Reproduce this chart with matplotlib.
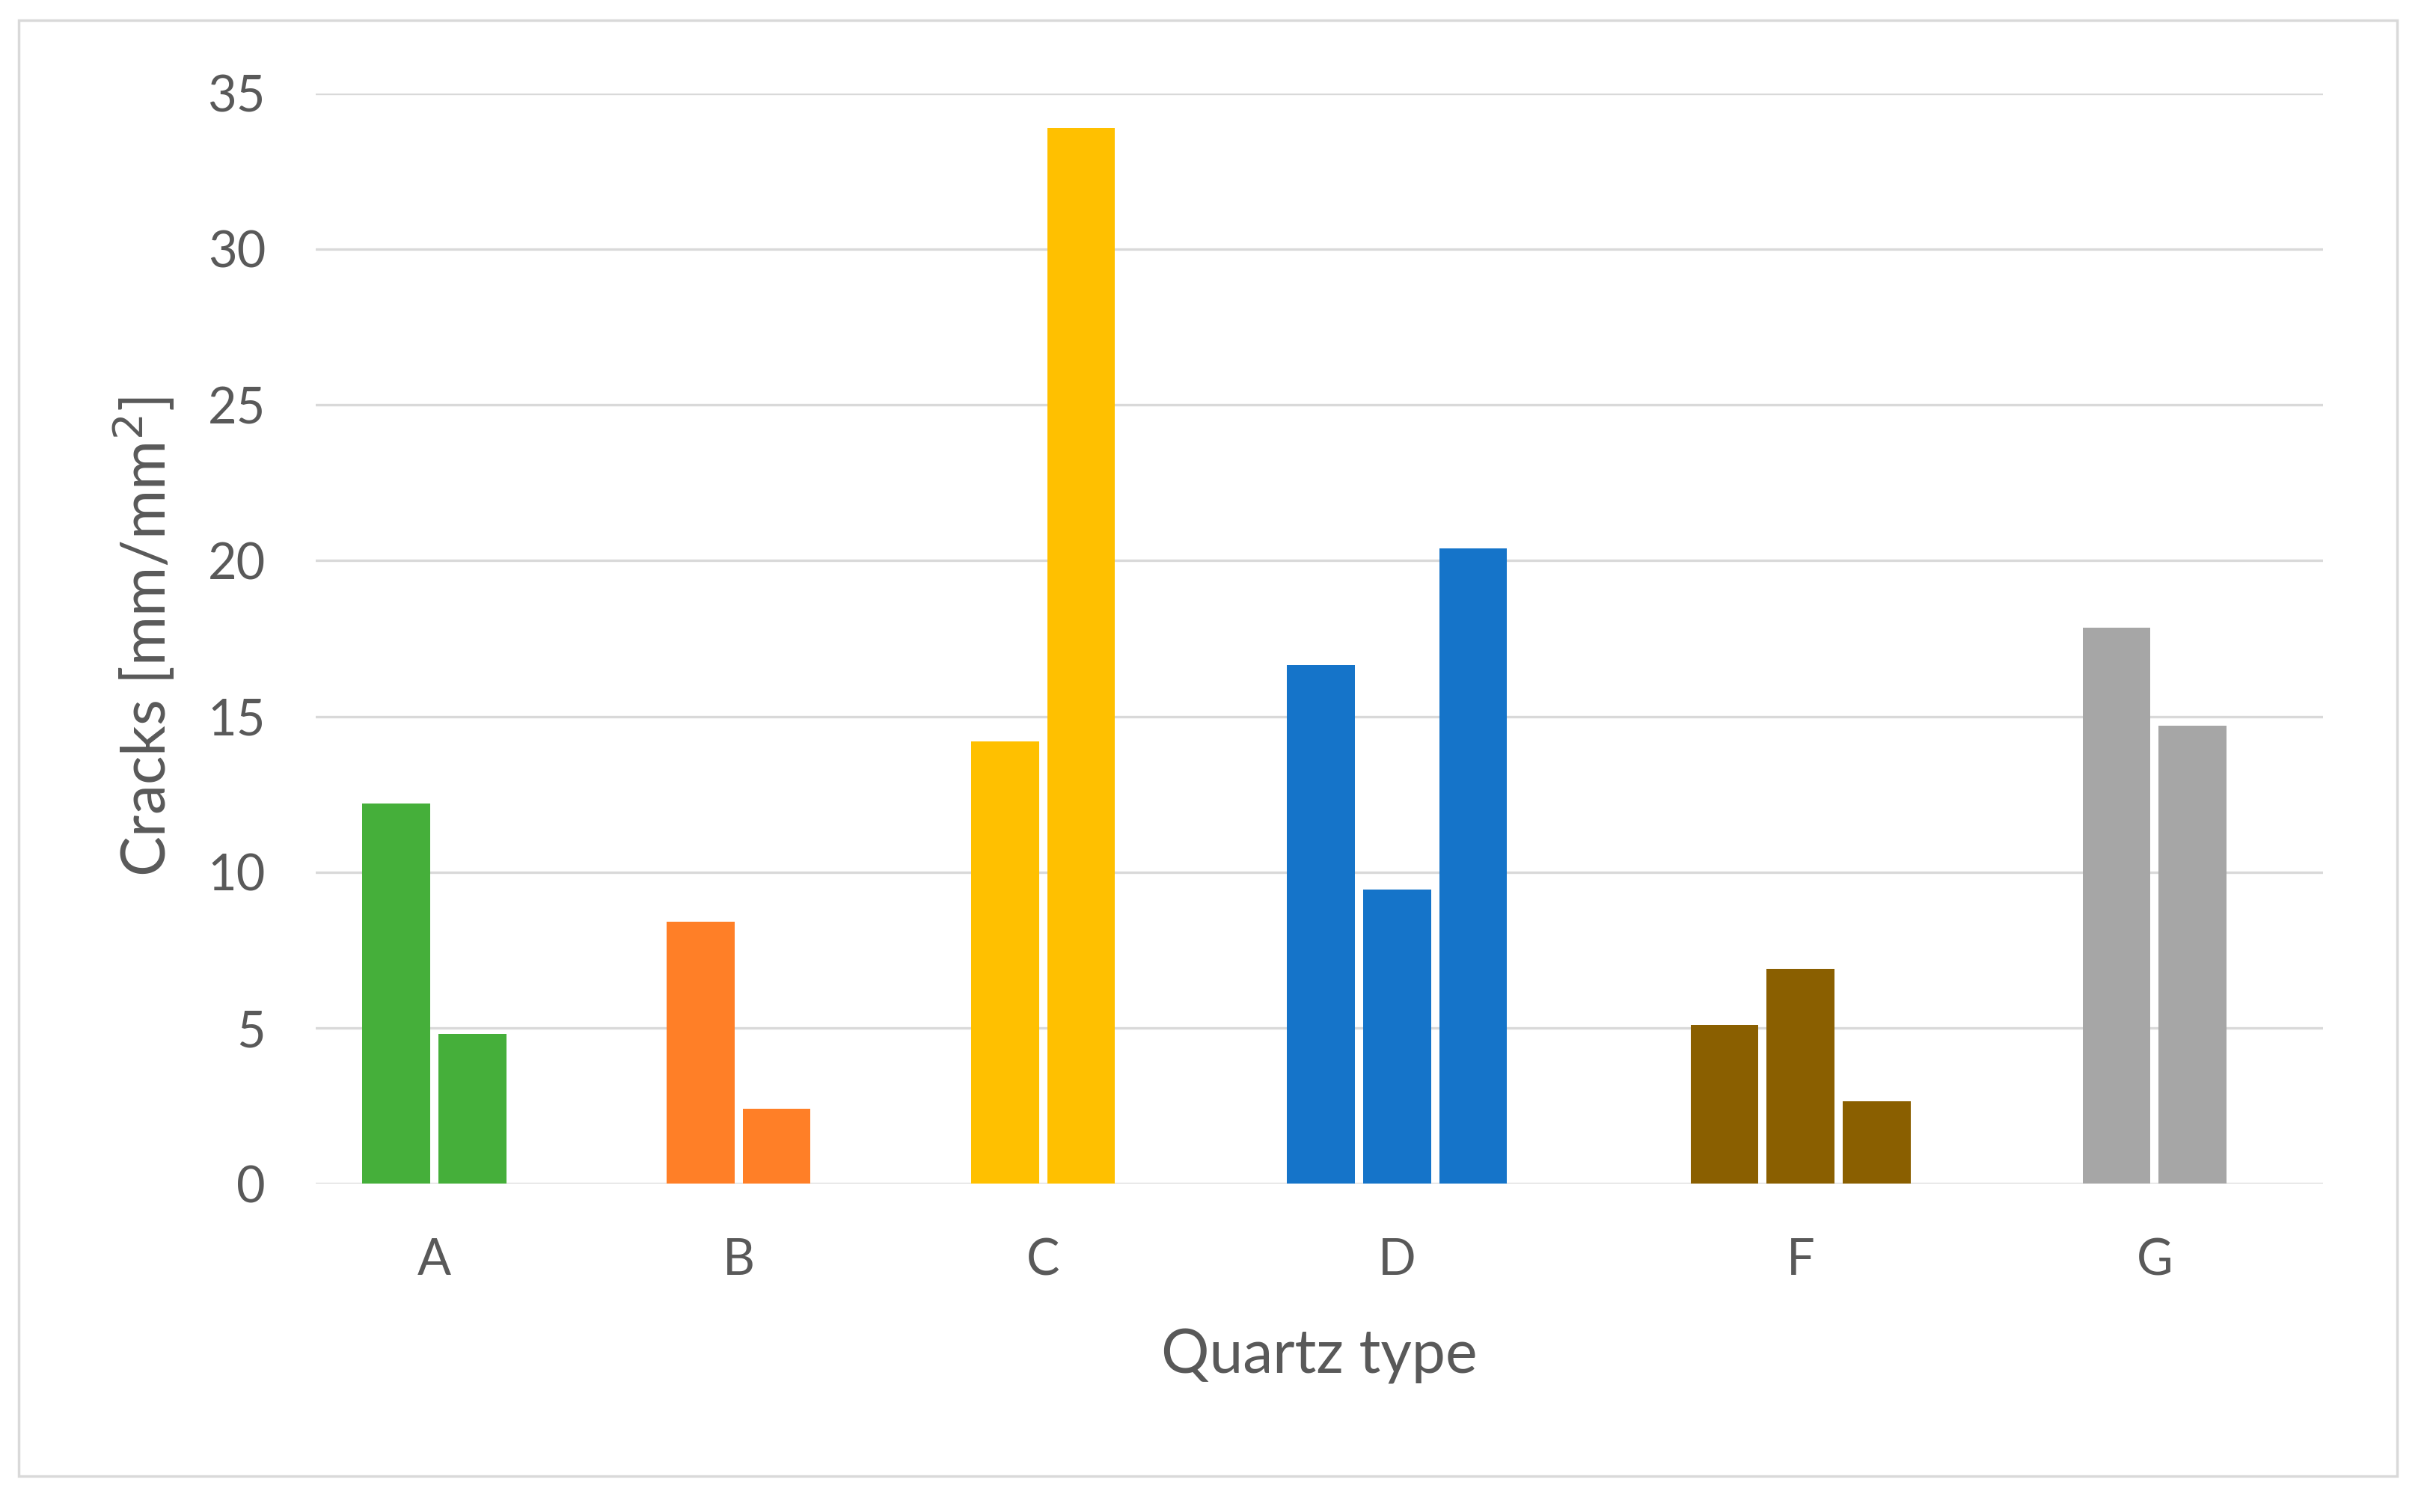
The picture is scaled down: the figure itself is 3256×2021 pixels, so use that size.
import matplotlib.pyplot as plt
from matplotlib.patches import Rectangle

# data
quartz_types = ["A", "B", "C", "D", "F", "G"]
cracks_A = [12.2, 4.8]
cracks_B = [8.4, 2.4]
cracks_C = [14.2, 33.9]
cracks_D = [16.65, 9.45, 20.4]
cracks_F = [5.1, 6.9, 2.65]
cracks_G = [17.85, 14.7]
groups = [cracks_A, cracks_B, cracks_C, cracks_D, cracks_F, cracks_G]
colors = ["#45AF3A", "#FF7F27", "#FFC000", "#1574C9", "#8A5F00", "#A6A6A6"]
y_ticks = [0, 5, 10, 15, 20, 25, 30, 35]

plt.rcParams["font.family"] = ["Lato", "DejaVu Sans"]
text_color = "#595959"
grid_color = "#D9D9D9"

fig = plt.figure(figsize=(32.56, 20.21), dpi=100)
ax = fig.add_axes([0.1295, 0.2171, 0.8240, 0.7212])

# bar positions: unit pitch inside a group, wider step between groups
group_steps = [3.0, 3.0, 3.15, 3.3, 3.15]
bar_width = 0.89
x = 0.0
centers = []
for i, vals in enumerate(groups):
    if i > 0:
        x += group_steps[i - 1]
    xs = []
    for j, v in enumerate(vals):
        if j > 0:
            x += 1
        xs.append(x)
    ax.bar(xs, vals, width=bar_width, color=colors[i], zorder=3)
    centers.append(sum(xs) / len(xs))

ax.set_xlim(-1.06, x + 1.71)
ax.set_ylim(0, 35)
ax.set_yticks(y_ticks)
ax.set_xticks(centers)
ax.set_xticklabels(quartz_types)

for s in ax.spines.values():
    s.set_visible(False)
ax.yaxis.grid(True, color=grid_color, linewidth=2.4, zorder=0)
ax.set_axisbelow(True)
ax.tick_params(axis="both", length=0, labelsize=48, colors=text_color)
ax.tick_params(axis="y", pad=48)
ax.tick_params(axis="x", pad=52)

fig.text(0.5415, 0.103, "Quartz type", fontsize=58, color=text_color,
         ha="center", va="center")
fig.text(0.0587, 0.579, "Cracks [mm/mm$^2$]", fontsize=58, color=text_color,
         ha="center", va="center", rotation=90)

# light grey frame around the chart
fig.patches.append(Rectangle((25 / 3256, 1 - 1973 / 2021), (3204 - 25) / 3256,
                             (1973 - 27) / 2021, transform=fig.transFigure,
                             fill=False, edgecolor=grid_color, linewidth=2.5))

fig.savefig("out.png", dpi=100, facecolor="white")
